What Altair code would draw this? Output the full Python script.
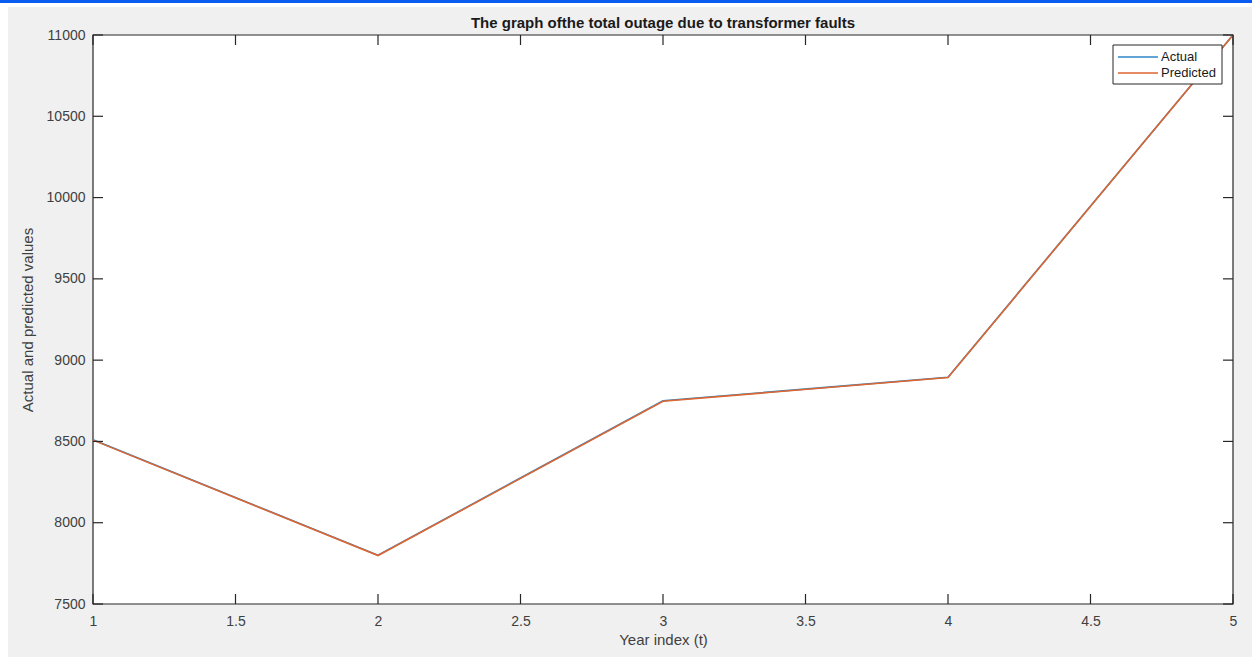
import altair as alt
import pandas as pd

years = [1, 2, 3, 4, 5]
actual = [8510, 7800, 8750, 8895, 11000]
predicted = [8508, 7798, 8747, 8893, 11000]
series_names = ["Actual", "Predicted"]
series_colors = ["#2C86C8", "#DE6630"]
x_ticks = [1, 1.5, 2, 2.5, 3, 3.5, 4, 4.5, 5]
y_ticks = [7500, 8000, 8500, 9000, 9500, 10000, 10500, 11000]
title_text = ["The graph ofthe total outage due to transformer faults"]

W, H = 1140, 569
FONT = "Liberation Sans"
AX = "#262626"
LAB = "#404040"

df_a = pd.DataFrame({"year": years, "value": actual, "series": "Actual"})
df_p = pd.DataFrame({"year": years, "value": predicted, "series": "Predicted"})
xt = pd.DataFrame({"t": x_ticks})
yt = pd.DataFrame({"t": y_ticks})
one = pd.DataFrame({"a": [0]})
leg = pd.DataFrame({"series": series_names, "color": series_colors})
tdf = pd.DataFrame({"title": title_text})

xscale = alt.Scale(domain=[1, 5], nice=False, zero=False)
yscale = alt.Scale(domain=[7500, 11000], nice=False, zero=False)
cscale = alt.Scale(domain=series_names, range=series_colors)

# figure gray background
bg = alt.Chart(one).mark_rect(color="#f0f0f0", clip=False).encode(
    x=alt.value(-85), x2=alt.value(1252 - 93), y=alt.value(-28), y2=alt.value(657 - 35)
)
topbar = alt.Chart(one).mark_rect(color="#0a5cf0", clip=False).encode(
    x=alt.value(-93), x2=alt.value(1252 - 93), y=alt.value(-35), y2=alt.value(-32)
)
plotbox = alt.Chart(one).mark_rect(fill="white", stroke=AX, strokeWidth=1.2).encode(
    x=alt.value(0), x2=alt.value(W), y=alt.value(0), y2=alt.value(H)
)
title = alt.Chart(tdf).mark_text(font=FONT, fontSize=15, fontWeight="bold",
                                  color="#1a1a1a", align="center", baseline="middle").encode(
    text="title:N", x=alt.value(W / 2), y=alt.value(-12)
)

xaxis = alt.Axis(values=x_ticks, format="~g", ticks=False, domain=False, grid=False,
                 labelFont=FONT, labelFontSize=14, labelColor=LAB, labelPadding=10,
                 title="Year index (t)", titleFont=FONT, titleFontSize=15,
                 titleFontWeight="normal", titleColor=LAB, titlePadding=4,
                 labelFlush=False, zindex=2)
yaxis = alt.Axis(values=y_ticks, format="d", ticks=False, domain=False, grid=False,
                 labelFont=FONT, labelFontSize=14, labelColor=LAB, labelPadding=8,
                 title="Actual and predicted values", titleFont=FONT, titleFontSize=15,
                 titleFontWeight="normal", titleColor=LAB, titlePadding=11, zindex=2)

line_a = alt.Chart(df_a).mark_line(strokeWidth=1.6).encode(
    x=alt.X("year:Q", scale=xscale, axis=xaxis),
    y=alt.Y("value:Q", scale=yscale, axis=yaxis),
    color=alt.Color("series:N", scale=cscale, legend=None),
)
line_p = alt.Chart(df_p).mark_line(strokeWidth=1.6).encode(
    x=alt.X("year:Q", scale=xscale),
    y=alt.Y("value:Q", scale=yscale),
    color=alt.Color("series:N", scale=cscale, legend=None),
)

tick_style = dict(color=AX, strokeWidth=1.2)
bt = alt.Chart(xt).mark_rule(**tick_style).encode(
    x=alt.X("t:Q", scale=xscale), y=alt.value(H), y2=alt.value(H - 10))
tt = alt.Chart(xt).mark_rule(**tick_style).encode(
    x=alt.X("t:Q", scale=xscale), y=alt.value(0), y2=alt.value(10))
lt = alt.Chart(yt).mark_rule(**tick_style).encode(
    y=alt.Y("t:Q", scale=yscale), x=alt.value(0), x2=alt.value(10))
rt = alt.Chart(yt).mark_rule(**tick_style).encode(
    y=alt.Y("t:Q", scale=yscale), x=alt.value(W), x2=alt.value(W - 10))

# manual legend
LX, LY = 1020, 10
legbox = alt.Chart(one).mark_rect(fill="white", stroke=AX, strokeWidth=1).encode(
    x=alt.value(LX), x2=alt.value(LX + 109), y=alt.value(LY), y2=alt.value(LY + 39))
leg_layers = []
for i, name in enumerate(series_names):
    d = leg[leg.series == name]
    yy = LY + 12 + i * 16
    leg_layers.append(alt.Chart(d).mark_rule(strokeWidth=1.5).encode(
        x=alt.value(LX + 5), x2=alt.value(LX + 45), y=alt.value(yy),
        color=alt.Color("series:N", scale=cscale, legend=None)))
    leg_layers.append(alt.Chart(d).mark_text(font=FONT, fontSize=13, color="#1a1a1a",
                                             align="left", baseline="middle").encode(
        x=alt.value(LX + 48), y=alt.value(yy), text="series:N"))

chart = alt.layer(bg, topbar, plotbox, line_a, line_p, bt, tt, lt, rt, title,
                  legbox, *leg_layers).properties(
    width=W, height=H,
    autosize=alt.AutoSizeParams(type="none"),
    padding={"left": 93, "top": 35, "right": 19, "bottom": 53},
).configure(background="white").configure_view(stroke=None)

chart.save("out.html", embed_options={"renderer": "svg", "actions": False})
